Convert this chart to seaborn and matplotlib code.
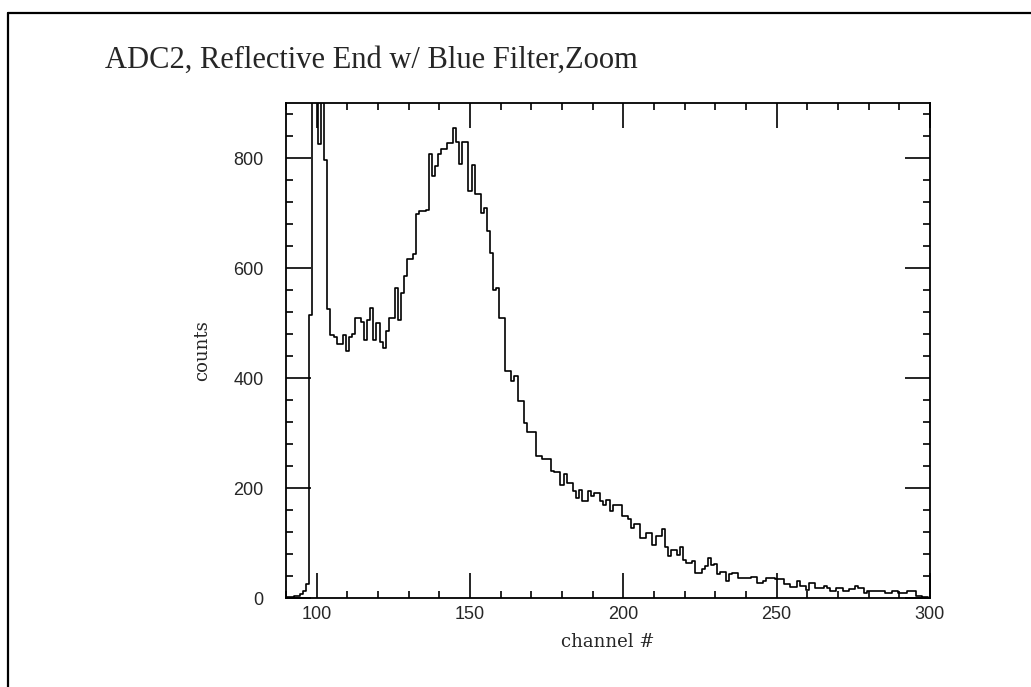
import numpy as np
import pandas as pd
import matplotlib
matplotlib.use("Agg")
import matplotlib.pyplot as plt
from matplotlib.lines import Line2D
from matplotlib.ticker import MultipleLocator
import seaborn as sns

# ADC2 spectrum, one value per channel
channels = list(range(90, 300))
counts = [
    2, 2, 2, 3, 4, 8, 13, 25, 515, 1300,            # 90-99
    1300, 825, 1100, 797, 525, 479, 475, 461, 461, 479,  # 100-109
    449, 475, 480, 510, 510, 501, 470, 505, 528, 470,    # 110-119
    500, 466, 455, 485, 510, 510, 564, 505, 555, 585,    # 120-129
    616, 616, 625, 698, 703, 703, 705, 807, 767, 785,    # 130-139
    807, 817, 817, 828, 828, 855, 830, 790, 830, 830,    # 140-149
    740, 788, 735, 735, 700, 710, 667, 628, 560, 564,    # 150-159
    510, 510, 412, 412, 394, 403, 358, 358, 319, 301,    # 160-169
    301, 301, 258, 258, 252, 252, 252, 231, 229, 229,    # 170-179
    205, 225, 210, 210, 195, 182, 197, 176, 176, 195,    # 180-189
    185, 191, 191, 176, 170, 178, 158, 169, 169, 169,    # 190-199
    149, 149, 143, 128, 134, 134, 110, 110, 119, 119,    # 200-209
    97, 113, 113, 125, 92, 76, 88, 88, 79, 92,           # 210-219
    70, 64, 64, 67, 46, 46, 52, 58, 73, 60,              # 220-229
    61, 43, 48, 48, 31, 44, 46, 46, 37, 37,              # 230-239
    37, 37, 38, 38, 28, 28, 31, 36, 36, 36,              # 240-249
    35, 34, 34, 25, 25, 20, 20, 31, 22, 22,              # 250-259
    14, 28, 28, 18, 18, 18, 22, 18, 13, 13,              # 260-269
    18, 18, 13, 13, 16, 16, 22, 18, 18, 10,              # 270-279
    13, 13, 13, 12, 12, 12, 10, 10, 12, 12,              # 280-289
    10, 10, 10, 12, 12, 12, 4, 4, 1, 1,                  # 290-299
]

title = "ADC2, Reflective End w/ Blue Filter,Zoom"

df = pd.DataFrame({"channel": channels, "counts": counts})

sns.set_style("ticks")
plt.rcParams["font.family"] = ["Liberation Serif", "DejaVu Serif"]

fig = plt.figure(figsize=(10.31, 6.87), dpi=100)
ax = fig.add_axes([0.2774, 0.1295, 0.6246, 0.7205])

sns.histplot(data=df, x="channel", weights="counts",
             binwidth=1, binrange=(89.5, 299.5), element="step", fill=False,
             color="black", linewidth=1.2, ax=ax)

ax.set_xlim(90, 300)
ax.set_ylim(0, 900)
ax.xaxis.set_major_locator(MultipleLocator(50))
ax.xaxis.set_minor_locator(MultipleLocator(10))
ax.yaxis.set_major_locator(MultipleLocator(200))
ax.yaxis.set_minor_locator(MultipleLocator(40))

ax.tick_params(which="both", direction="in", top=True, right=True,
               color="black", width=1.2)
ax.tick_params(which="major", length=18)
ax.tick_params(which="minor", length=5)
ax.tick_params(axis="x", which="major", pad=6)
ax.tick_params(axis="y", which="major", pad=16)
for lab in ax.get_xticklabels() + ax.get_yticklabels():
    lab.set_family(["Liberation Sans", "DejaVu Sans"])
    lab.set_fontsize(13)

for sp in ax.spines.values():
    sp.set_visible(True)
    sp.set_linewidth(1.3)
    sp.set_color("black")

ax.set_xlabel("channel #", fontsize=13, labelpad=7,
              family=["DejaVu Serif"])
ax.set_ylabel("counts", fontsize=13, labelpad=16,
              family=["DejaVu Serif"])

fig.text(105 / 1031, 1 - 60 / 687, title, fontsize=22, ha="left", va="center")

# scanned page border
fig.add_artist(Line2D([8 / 1031, 1.0], [1 - 13 / 687, 1 - 13 / 687],
                      color="black", linewidth=1.6))
fig.add_artist(Line2D([8 / 1031, 8 / 1031], [1 - 13 / 687, 0.0],
                      color="black", linewidth=1.6))

fig.savefig("out.png", dpi=100)
